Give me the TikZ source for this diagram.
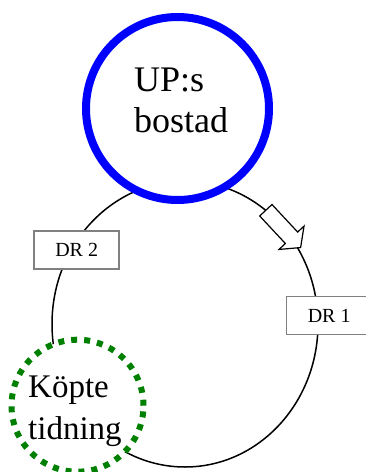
\documentclass[tikz,border=0pt]{standalone}
\usepackage{fontspec}
\setmainfont{Liberation Serif}
\usetikzlibrary{shapes.arrows}
\definecolor{homeblue}{HTML}{0000FF}
\definecolor{papergreen}{HTML}{008000}
\definecolor{boxgray}{HTML}{808080}

\begin{document}
\begin{tikzpicture}[x=1pt, y=-1pt,
    place/.style={circle, fill=white, inner sep=0pt, minimum size=#1},
    drbox/.style={rectangle, draw=boxgray, line width=1.5pt, fill=white, minimum width=85pt, minimum height=38pt, inner sep=0pt, font=\fontsize{20}{24}\selectfont},
    bigtext/.style={align=left, inner sep=0pt, anchor=base west},
    blockarrow/.style={single arrow, draw=black, fill=white, line width=1.2pt, minimum height=51pt, inner xsep=0pt, inner ysep=7.8pt, text height=0pt, text depth=0pt, single arrow head extend=8.7pt, single arrow tip angle=104}
]
\useasboundingbox (0,0) rectangle (366,472);

% Route
\coordinate (mid) at (185,324);
\draw[line width=1.5pt] (mid) ellipse [x radius=133, y radius=143];
\node[blockarrow, rotate=-47] (toward) at (281,226.5) {};

% Places
\node[place=183pt, draw=homeblue, line width=8pt] (home) at (177.5,108.5) {};
\node[place=132pt, draw=papergreen, line width=6pt, dash pattern=on 6pt off 7pt] (paper) at (77.5,405.7) {};
\node[bigtext, font=\fontsize{36}{41}\selectfont] (homelbl) at (134,132.7) {UP:s\\bostad};
\node[bigtext, font=\fontsize{33}{42}\selectfont] (paperlbl) at (28,439) {Köpte\\tidning};

% Boxes
\node[drbox] (dr2) at (76.7,250) {DR 2};
\node[drbox] (dr1) at (329.2,315.5) {DR 1};

\end{tikzpicture}
\end{document}
